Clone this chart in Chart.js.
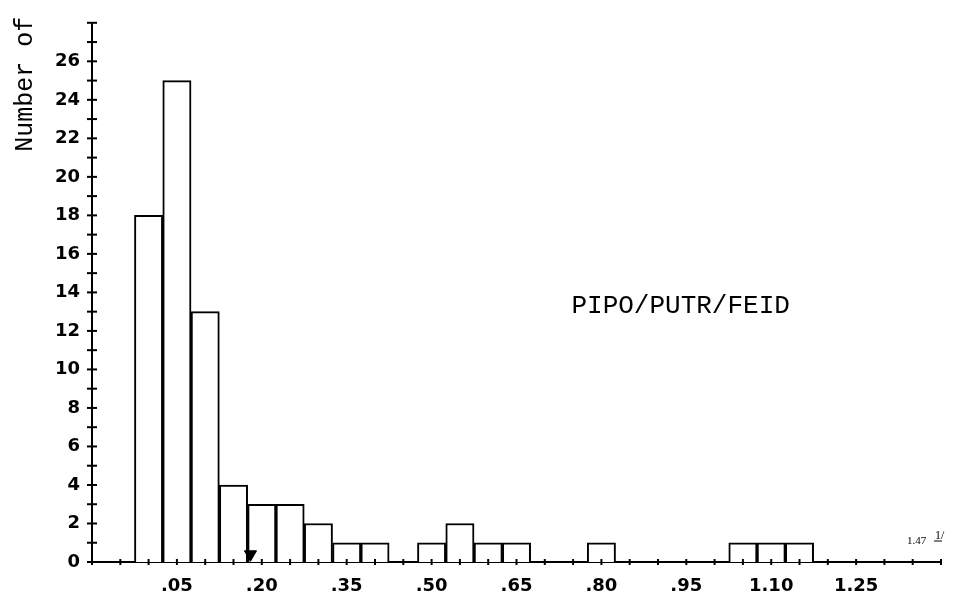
<!DOCTYPE html>
<html>
<head>
<meta charset="utf-8">
<script src="https://cdn.jsdelivr.net/npm/chart.js@4"></script>
<style>
  body { margin: 0; background: #fff; }
</style>
</head>
<body>
<canvas id="myChart" width="961" height="600"></canvas>
<script>
// class midpoints (width .05) and number of stands in each class
var binMids = [0.00, 0.05, 0.10, 0.15, 0.20, 0.25, 0.30, 0.35, 0.40, 0.50, 0.55, 0.60, 0.65, 0.80, 1.05, 1.10, 1.15];
var counts  = [18, 25, 13, 4, 3, 3, 2, 1, 1, 1, 2, 1, 1, 1, 1, 1, 1];
var meanValue = [0.18];

var xTickLabels = [".05", ".20", ".35", ".50", ".65", ".80", ".95", "1.10", "1.25"];
var yTickLabels = ["0", "2", "4", "6", "8", "10", "12", "14", "16", "18", "20", "22", "24", "26"];

var groupName = "PIPO/PUTR/FEID";
var outlierNote = "1.47";

function fmtX(v) {
  var k = Math.round(v * 100);
  if (k < 0) return "";
  return k < 100 ? "." + String(k).padStart(2, "0") : (k / 100).toFixed(2);
}

// tick marks that cross the axis lines, plus the text notes
var axisMarks = {
  id: "axisMarks",
  afterDraw: function(chart) {
    var ctx = chart.ctx;
    var xs = chart.scales.x, ys = chart.scales.y;
    var area = chart.chartArea;
    ctx.save();
    ctx.strokeStyle = "#000";
    ctx.lineWidth = 2;
    ys.ticks.forEach(function(t) {
      var py = ys.getPixelForValue(t.value);
      ctx.beginPath();
      ctx.moveTo(area.left - 5, py);
      ctx.lineTo(area.left + 5, py);
      ctx.stroke();
    });
    xs.ticks.forEach(function(t) {
      var px = xs.getPixelForValue(t.value);
      ctx.beginPath();
      ctx.moveTo(px, area.bottom - 3);
      ctx.lineTo(px, area.bottom + 3);
      ctx.stroke();
    });

    ctx.fillStyle = "#000";
    // group name
    ctx.font = "26px 'Liberation Mono'";
    ctx.textAlign = "center";
    ctx.textBaseline = "middle";
    ctx.fillText(groupName, xs.getPixelForValue(0.94), ys.getPixelForValue(13.3));

    // y title, cut at the top like the source
    ctx.save();
    ctx.font = "25px 'Liberation Mono'";
    ctx.translate(25, area.top + 129);
    ctx.rotate(-Math.PI / 2);
    ctx.textAlign = "left";
    ctx.fillText("Number of", 0, 0);
    ctx.restore();

    // off-scale value note
    var nx = area.right - 34, ny = area.bottom - 18;
    ctx.font = "11px 'Liberation Serif'";
    ctx.textAlign = "left";
    ctx.textBaseline = "alphabetic";
    ctx.fillText(outlierNote, nx, ny);
    ctx.font = "12px 'Liberation Serif'";
    ctx.fillText("1/", nx + 28, ny - 5);
    ctx.lineWidth = 1;
    ctx.beginPath();
    ctx.moveTo(nx + 27, ny - 3);
    ctx.lineTo(nx + 35, ny - 3);
    ctx.stroke();
    ctx.restore();
  }
};

new Chart("myChart", {
  type: "bar",
  data: {
    datasets: [{
      type: "bar",
      order: 1,
      data: binMids.map(function(m, i) { return { x: m, y: counts[i] }; }),
      backgroundColor: "#fff",
      borderColor: "#000",
      borderWidth: 2,
      borderSkipped: "bottom",
      barPercentage: 1,
      categoryPercentage: 1
    }, {
      type: "scatter",
      order: 0,
      data: meanValue.map(function(m) { return { x: m, y: 0.4 }; }),
      pointStyle: "triangle",
      rotation: 180,
      radius: 7,
      backgroundColor: "#000",
      borderColor: "#000"
    }]
  },
  plugins: [axisMarks],
  options: {
    responsive: false,
    animation: false,
    layout: { padding: { top: 13, right: 20, left: 0, bottom: 0 } },
    plugins: {
      legend: { display: false },
      tooltip: { enabled: false }
    },
    scales: {
      x: {
        type: "linear",
        offset: false,
        min: -0.10,
        max: 1.40,
        grid: { display: false, drawTicks: false },
        border: { display: true, color: "#000", width: 2 },
        afterFit: function(s) { s.height = 38; },
        ticks: {
          stepSize: 0.05,
          maxTicksLimit: 100,
          autoSkip: false,
          maxRotation: 0,
          padding: 14,
          color: "#000",
          font: { family: "'DejaVu Sans'", size: 18, weight: "bold" },
          callback: function(v) {
            var s = fmtX(v);
            return xTickLabels.indexOf(s) >= 0 ? s : "";
          }
        }
      },
      y: {
        min: 0,
        max: 28,
        grid: { display: false, drawTicks: false },
        border: { display: true, color: "#000", width: 2 },
        afterFit: function(s) { s.width = 92; },
        ticks: {
          stepSize: 1,
          maxTicksLimit: 100,
          autoSkip: false,
          padding: 12,
          color: "#000",
          font: { family: "'DejaVu Sans'", size: 18, weight: "bold" },
          callback: function(v) {
            return yTickLabels.indexOf(String(v)) >= 0 ? String(v) : "";
          }
        }
      }
    }
  }
});
</script>
</body>
</html>
